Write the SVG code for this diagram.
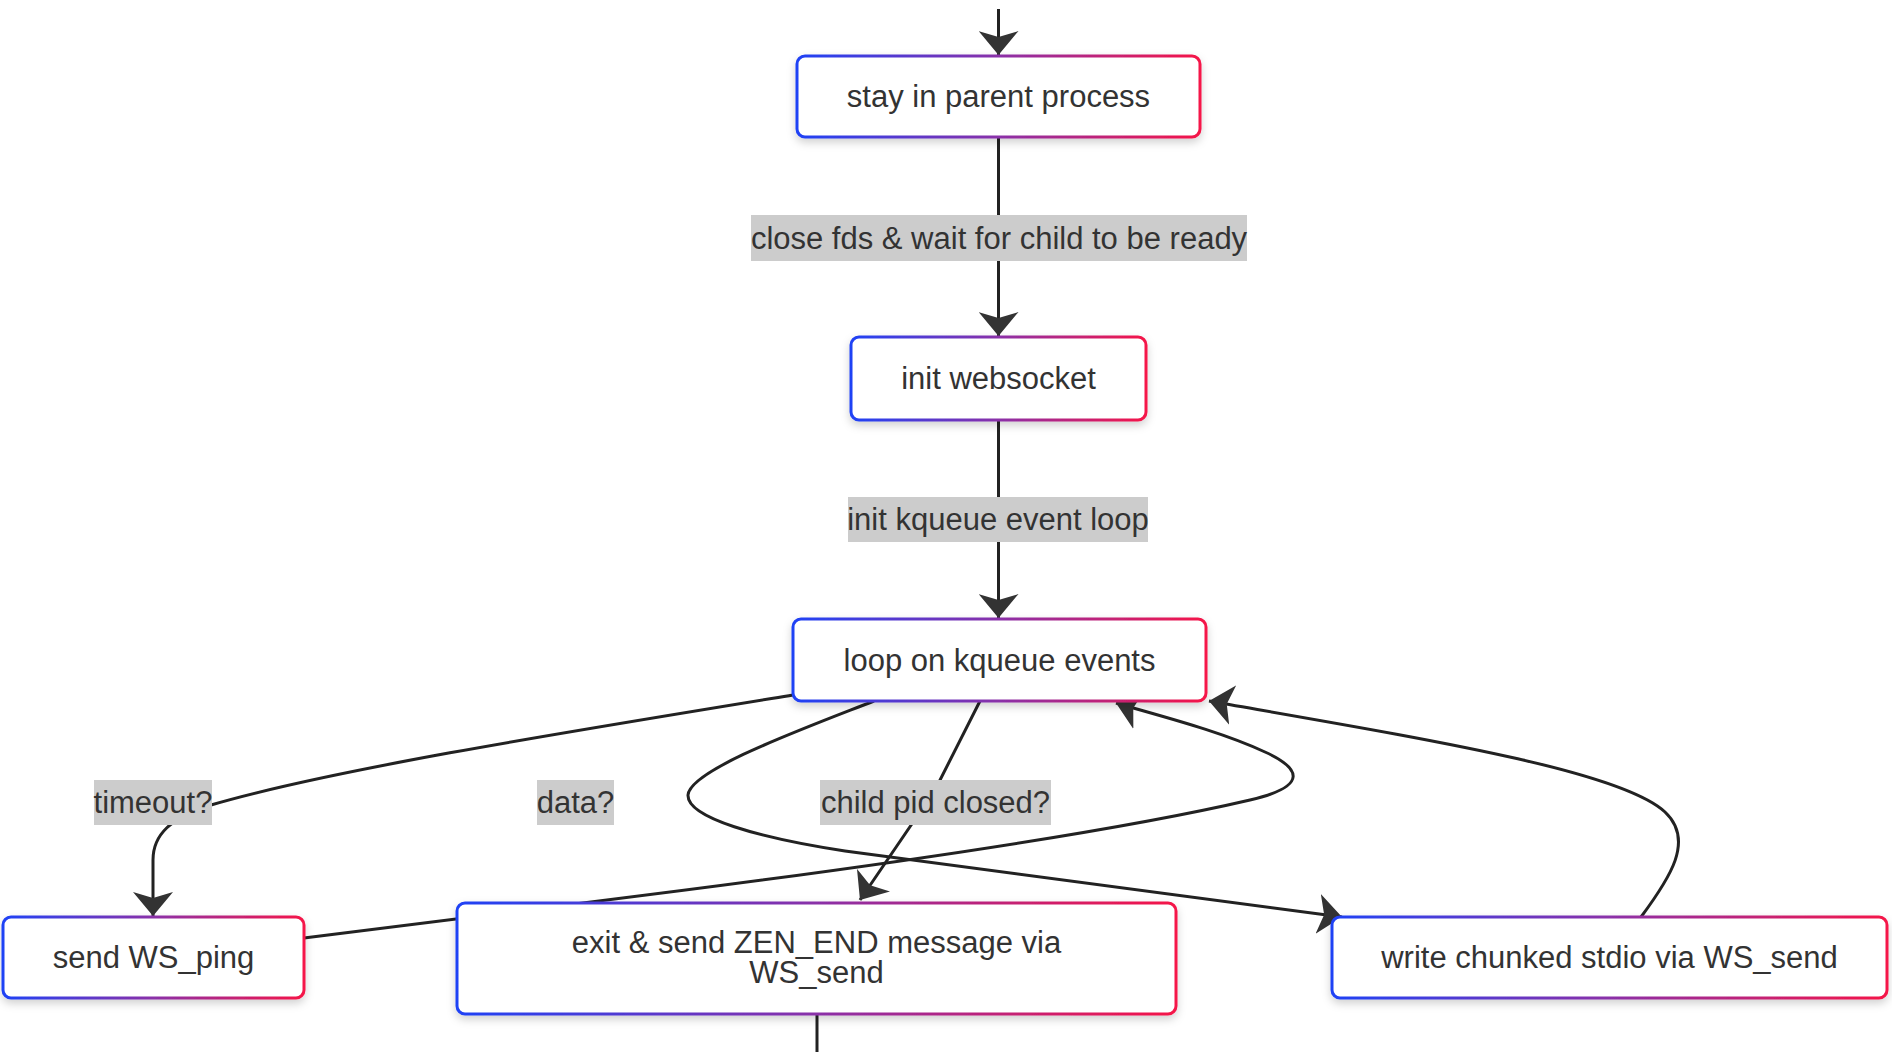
<svg xmlns="http://www.w3.org/2000/svg" width="1892" height="1052" viewBox="0 0 1892 1052">
  <defs>
    <linearGradient id="borderGrad" x1="0" y1="0" x2="1" y2="0">
      <stop offset="0" stop-color="#1f42f5"/>
      <stop offset="0.5" stop-color="#8a30a8"/>
      <stop offset="1" stop-color="#f51548"/>
    </linearGradient>
    <filter id="shadow" x="-10%" y="-20%" width="120%" height="150%">
      <feDropShadow dx="0" dy="4" stdDeviation="4" flood-color="#000" flood-opacity="0.18"/>
    </filter>
    <marker id="arrow" markerUnits="userSpaceOnUse" viewBox="0 0 24 40" markerWidth="24" markerHeight="40" refX="24" refY="20" orient="auto">
      <path d="M0,0 L24,20 L0,40 L6,20 z" fill="#333"/>
    </marker>
  </defs>
  <style>
    .node rect { fill: #ffffff; stroke: url(#borderGrad); stroke-width: 3; filter: url(#shadow); }
    .node text { font-family: "Liberation Sans", Arial, sans-serif; font-size: 31px; fill: #333; text-anchor: middle; }
    .edge { fill: none; stroke: #222; stroke-width: 3; }
    .arrow { marker-end: url(#arrow); }
    .elabel rect { fill: #cccccc; }
    .elabel text { font-family: "Liberation Sans", Arial, sans-serif; font-size: 31px; fill: #333; text-anchor: middle; }
  </style>
  <rect width="1892" height="1052" fill="#ffffff"/>

  <g id="connectors">
    <path class="edge arrow" d="M998.5,9 L998.5,55"/>
    <path class="edge arrow" d="M998.5,137 L998.5,336"/>
    <path class="edge arrow" d="M998.5,420 L998.5,618"/>
    <path class="edge arrow" d="M793,695 C560,733 330,770 211,805 C170,818 153,835 153,860 L153,916"/>
    <path class="edge arrow" d="M874,701 C800,730 690,770 688,795 C687,818 760,838 845,851 L1342,917"/>
    <path class="edge arrow" d="M980,701 L935,790 L860,900"/>
    <path class="edge arrow" d="M304,938 L591,902 C850,870 1100,835 1250,800 C1310,786 1300,768 1265,752 C1220,731 1160,716 1116,703"/>
    <path class="edge arrow" d="M1641,917 C1670,878 1695,840 1665,812 C1620,770 1420,738 1209,701"/>
    <path class="edge" d="M817,1014 L817,1052"/>
  </g>

  <g id="edge-labels">
    <g class="elabel" id="label-close-fds">
      <rect x="751" y="215" width="496" height="46"/>
      <text x="999" y="249">close fds &amp; wait for child to be ready</text>
    </g>
    <g class="elabel" id="label-init-kqueue">
      <rect x="848" y="497" width="300" height="45"/>
      <text x="998" y="530">init kqueue event loop</text>
    </g>
    <g class="elabel" id="label-timeout">
      <rect x="94" y="780" width="118" height="45"/>
      <text x="153" y="813">timeout?</text>
    </g>
    <g class="elabel" id="label-data">
      <rect x="537" y="780" width="77" height="45"/>
      <text x="575.5" y="813">data?</text>
    </g>
    <g class="elabel" id="label-child-pid">
      <rect x="820" y="780" width="231" height="45"/>
      <text x="935.5" y="813">child pid closed?</text>
    </g>
  </g>

  <g class="node" id="node-stay-parent">
    <rect x="797" y="56" width="403" height="81" rx="8" ry="8"/>
    <text x="998.5" y="107">stay in parent process</text>
  </g>
  <g class="node" id="node-init-websocket">
    <rect x="851" y="337" width="295" height="83" rx="8" ry="8"/>
    <text x="998.5" y="389">init websocket</text>
  </g>
  <g class="node" id="node-loop">
    <rect x="793" y="619" width="413" height="82" rx="8" ry="8"/>
    <text x="999.5" y="671">loop on kqueue events</text>
  </g>
  <g class="node" id="node-send-ping">
    <rect x="3" y="917" width="301" height="81" rx="8" ry="8"/>
    <text x="153.5" y="968">send WS_ping</text>
  </g>
  <g class="node" id="node-exit">
    <rect x="457" y="903" width="719" height="111" rx="8" ry="8"/>
    <text x="816.5" y="953">exit &amp; send ZEN_END message via</text>
    <text x="816.5" y="983">WS_send</text>
  </g>
  <g class="node" id="node-write-chunked">
    <rect x="1332" y="917" width="555" height="81" rx="8" ry="8"/>
    <text x="1609.5" y="968">write chunked stdio via WS_send</text>
  </g>
</svg>
